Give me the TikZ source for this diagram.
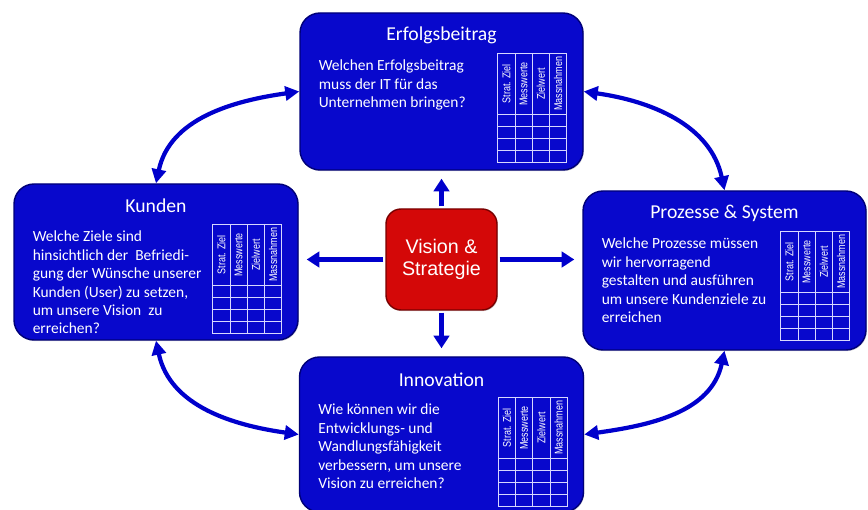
\documentclass[tikz,border=0pt]{standalone}
\usepackage{fontspec}
\setmainfont{Carlito}
\newfontfamily\arialfont{Liberation Sans}
\usetikzlibrary{positioning, arrows.meta, shadows}

\definecolor{bscblue}{RGB}{8,8,204}
\definecolor{bscdark}{RGB}{0,0,120}
\definecolor{arrowblue}{RGB}{0,0,204}
\definecolor{visionred}{RGB}{212,8,8}
\definecolor{visiondark}{RGB}{120,0,0}
\definecolor{gridwhite}{RGB}{215,215,255}

% KPI table in the upper right corner of a perspective box
\newcommand{\kpitable}[1]{%
  \begin{scope}[shift={(#1.north east)}, xshift=-2.15cm, yshift=-1.025cm]
    \draw[gridline] (0,0) rectangle (1.725,-2.725);
    \foreach \c in {1,2,3}
      \draw[gridline] (\c*0.43125,0) -- (\c*0.43125,-2.725);
    \foreach \r in {0,...,3}
      \draw[gridline] (0,-1.525-\r*0.3) -- (1.725,-1.525-\r*0.3);
    \foreach \h [count=\i] in {Strat. Ziel, Messwerte, Zielwert, Massnahmen}
      \node[kpihead] (#1-head-\i) at ({(\i-0.5)*0.43125},-0.7625) {\h};
  \end{scope}}

\begin{document}
\begin{tikzpicture}[on grid,
    bscbox/.style={draw=bscdark, line width=1pt, fill=bscblue, rounded corners=0.5cm,
      drop shadow={opacity=0.35, shadow xshift=0.6pt, shadow yshift=-0.8pt}},
    visionbox/.style={draw=visiondark, line width=1pt, fill=visionred, rounded corners=0.375cm,
      minimum width=2.775cm, minimum height=2.525cm, text=white, align=center,
      font=\arialfont\fontsize{14}{16}\selectfont,
      drop shadow={opacity=0.35, shadow xshift=0.6pt, shadow yshift=-0.8pt}},
    title/.style={text=white, font=\fontsize{14}{16}\selectfont, text height=0.7em, text depth=0.2em},
    body/.style={text=white, font=\fontsize{11}{13.1}\selectfont, align=left, inner sep=0pt, anchor=north west},
    kpihead/.style={text=white, font=\arialfont\fontsize{8}{9}\selectfont, rotate=90, xscale=0.8, inner sep=0pt},
    gridline/.style={draw=gridwhite, line width=0.5pt},
    spoke/.style={draw=arrowblue, line width=4.2pt, -{Triangle[length=9pt, width=11pt]},
      shorten <=0.05cm, shorten >=0.2cm},
    ringarrow/.style={draw=arrowblue, line width=3pt,
      {Triangle[length=10pt, width=10pt]}-{Triangle[length=10pt, width=10pt]}}]
  \useasboundingbox (0,0) rectangle (21.7,12.725);

  \node[visionbox] (vision) at (11.0375,6.2375) {Vision \&\\Strategie};
  \node[bscbox, minimum width=7.075cm, minimum height=3.925cm, above=4.2cm of vision] (erfolg) {};
  \node[bscbox, minimum width=7.1cm, minimum height=3.9cm, below left=0.0625cm and 7.1375cm of vision] (kunden) {};
  \node[bscbox, minimum width=7.075cm, minimum height=3.975cm, below right=0.275cm and 7.075cm of vision] (prozesse) {};
  \node[bscbox, minimum width=7.1cm, minimum height=3.875cm, below=4.375cm of vision] (innov) {};

  % titles
  \node[title] (erfolg-title) at ([yshift=-0.62cm]erfolg.north) {Erfolgsbeitrag};
  \node[title] (kunden-title) at ([yshift=-0.65cm]kunden.north) {Kunden};
  \node[title] (prozesse-title) at ([yshift=-0.62cm]prozesse.north) {Prozesse \& System};
  \node[title] (innov-title) at ([yshift=-0.67cm]innov.north) {Innovation};

  % questions
  \node[body] (erfolg-text) at ([xshift=0.48cm, yshift=-1.19cm]erfolg.north west)
    {Welchen Erfolgsbeitrag\\muss der IT für das\\Unternehmen bringen?};
  \node[body] (kunden-text) at ([xshift=0.48cm, yshift=-1.19cm]kunden.north west)
    {Welche Ziele sind\\hinsichtlich der~ Befriedi-\\gung der Wünsche unserer\\Kunden (User) zu setzen,\\um unsere Vision~ zu\\erreichen?};
  \node[body] (prozesse-text) at ([xshift=0.48cm, yshift=-1.19cm]prozesse.north west)
    {Welche Prozesse müssen\\wir hervorragend\\gestalten und ausführen\\um unsere Kundenziele zu\\erreichen};
  \node[body] (innov-text) at ([xshift=0.48cm, yshift=-1.19cm]innov.north west)
    {Wie können wir die\\Entwicklungs- und\\Wandlungsfähigkeit\\verbessern, um unsere\\Vision zu erreichen?};

  \kpitable{erfolg}
  \kpitable{kunden}
  \kpitable{prozesse}
  \kpitable{innov}

  % vision to the four perspectives
  \draw[spoke] (vision.north) -- (erfolg.south);
  \draw[spoke] (vision.south) -- (innov.north);
  \draw[spoke] (vision.west) -- (vision.west -| kunden.east);
  \draw[spoke] (vision.east) -- (vision.east -| prozesse.west);

  % cycle between the perspectives
  \draw[ringarrow] (erfolg.west) to[out=188, in=78] (kunden.north);
  \draw[ringarrow] (erfolg.east) to[out=-8, in=102] (prozesse.north);
  \draw[ringarrow] (kunden.south) to[out=-78, in=172] (innov.west);
  \draw[ringarrow] (prozesse.south) to[out=-102, in=8] (innov.east);
\end{tikzpicture}
\end{document}
